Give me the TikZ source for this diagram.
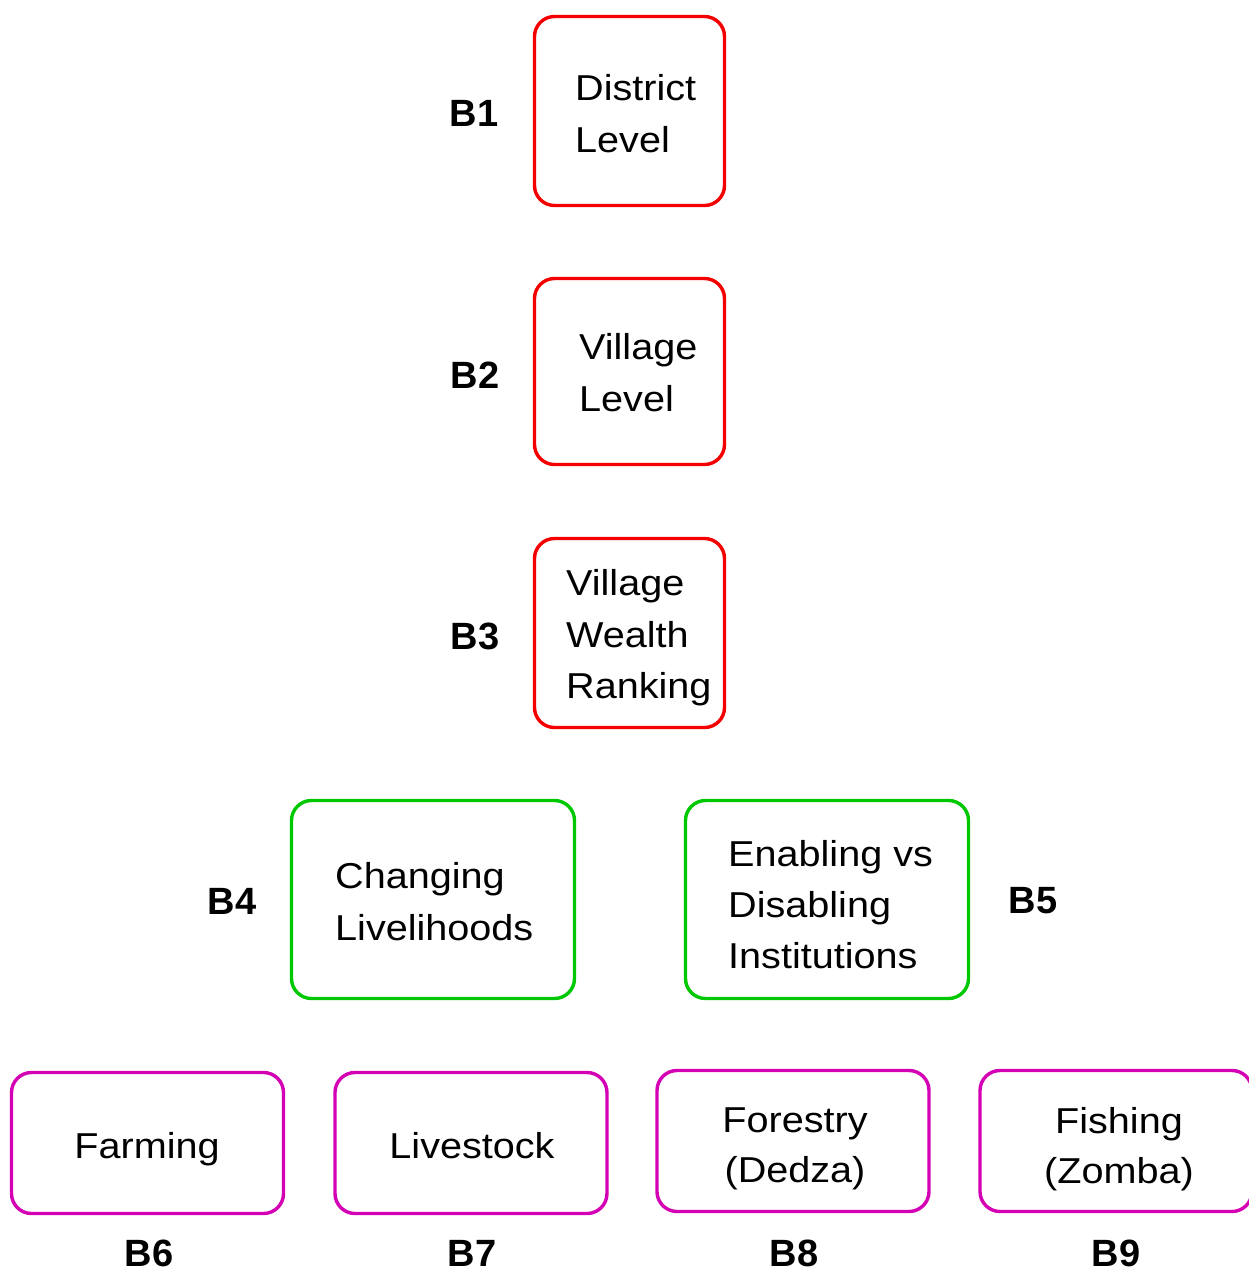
\documentclass[tikz,border=0pt]{standalone}
\usepackage{fontspec}
\setmainfont{Liberation Sans}
\newfontfamily\wfont[FakeStretch=1.1]{Liberation Sans}
\definecolor{cred}{RGB}{245,0,0}
\definecolor{cgreen}{RGB}{0,200,0}
\definecolor{cmag}{RGB}{212,0,180}
\begin{document}
\begin{tikzpicture}[x=1pt,y=-1pt,
  box/.style={draw, rounded corners=20pt, line width=3.4pt, inner sep=0pt},
  redbox/.style={box, draw=cred},
  greenbox/.style={box, draw=cgreen},
  magbox/.style={box, draw=cmag, minimum width=271pt, minimum height=141pt},
  txt/.style={inner sep=0pt, align=left, font=\wfont\fontsize{36}{52}\selectfont},
  ctxt/.style={inner sep=0pt, align=center, font=\wfont\fontsize{36}{50}\selectfont},
  lbl/.style={inner sep=0pt, font=\fontsize{38}{44}\selectfont\bfseries}]
\path[use as bounding box] (0,0) rectangle (1249,1272);
% top column
\node[redbox, minimum width=190pt, minimum height=189pt] (b1) at (629.5,111) {};
\node[txt, anchor=west] (t1) at (575,114) {District\\Level};
\node[lbl] (l1) at (474,113) {B1};
\node[redbox, minimum width=190pt, minimum height=186pt] (b2) at (629.5,371.5) {};
\node[txt, anchor=west] (t2) at (579,373) {Village\\Level};
\node[lbl] (l2) at (475,375) {B2};
\node[redbox, minimum width=190pt, minimum height=189pt] (b3) at (629.5,633) {};
\node[txt, anchor=west, font=\wfont\fontsize{36}{51.5}\selectfont] (t3) at (566,638) {Village\\Wealth\\Ranking};
\node[lbl] (l3) at (475,636) {B3};
% middle row
\node[greenbox, minimum width=283pt, minimum height=198pt] (b4) at (433,899.5) {};
\node[txt, anchor=west] (t4) at (335,902) {Changing\\Livelihoods};
\node[lbl] (l4) at (232,901) {B4};
\node[greenbox, minimum width=283pt, minimum height=198pt] (b5) at (827,899.5) {};
\node[txt, anchor=west, font=\wfont\fontsize{36}{51}\selectfont] (t5) at (728,905) {Enabling vs\\Disabling\\Institutions};
\node[lbl] (l5) at (1033,901) {B5};
% bottom row
\node[magbox, minimum width=272pt] (b6) at (147.5,1143) {};
\node[ctxt, anchor=base] (t6) at (147,1158) {Farming};
\node[lbl] (l6) at (149,1253) {B6};
\node[magbox, minimum width=272pt] (b7) at (471,1143) {};
\node[ctxt, anchor=base] (t7) at (472,1158) {Livestock};
\node[lbl] (l7) at (472,1253) {B7};
\node[magbox, minimum width=272pt] (b8) at (793,1141) {};
\node[ctxt] (t8) at (795,1149) {Forestry\\(Dedza)};
\node[lbl] (l8) at (794,1253) {B8};
\node[magbox, minimum width=272pt] (b9) at (1116,1141) {};
\node[ctxt] (t9) at (1119,1149) {Fishing\\(Zomba)};
\node[lbl] (l9) at (1116,1253) {B9};
\end{tikzpicture}
\end{document}
